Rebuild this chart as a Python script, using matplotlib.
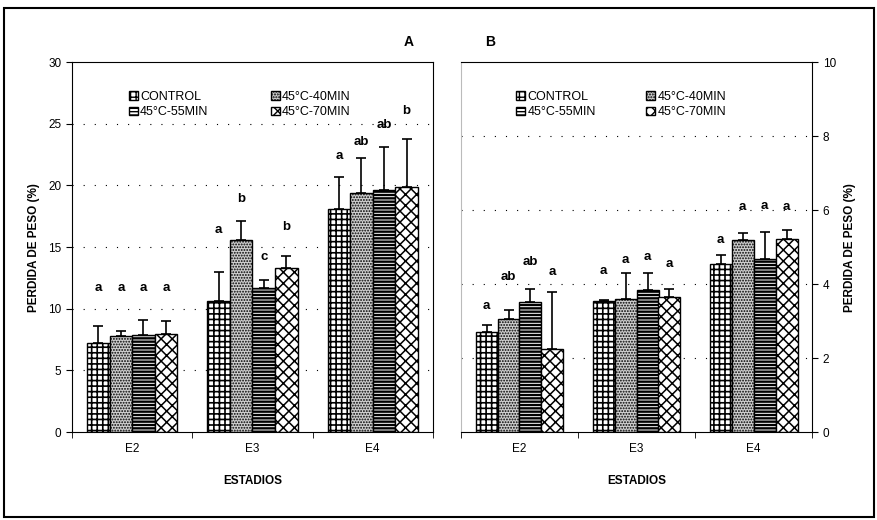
import matplotlib.pyplot as plt
import numpy as np
from matplotlib.patches import Rectangle

plt.rcParams['font.family'] = ['Liberation Sans', 'DejaVu Sans']

estadios = ['E2', 'E3', 'E4']
tratamientos = ['CONTROL', '45°C-40MIN', '45°C-55MIN', '45°C-70MIN']

# Panel A: perdida de peso (%), media y error (solo hacia arriba)
media_A = [[7.2, 10.6, 18.1],
           [7.8, 15.6, 19.4],
           [7.9, 11.7, 19.6],
           [7.95, 13.3, 19.9]]
error_A = [[1.4, 2.4, 2.6],
           [0.4, 1.5, 2.8],
           [1.2, 0.65, 3.5],
           [1.1, 0.95, 3.9]]
letras_A = [['a', 'a', 'a'],
            ['a', 'b', 'ab'],
            ['a', 'c', 'ab'],
            ['a', 'b', 'b']]
altura_letras_A = [[11.7, 16.4, 22.4],
                   [11.7, 18.9, 23.5],
                   [11.7, 14.2, 24.9],
                   [11.7, 16.6, 26.0]]

# Panel B
media_B = [[2.71, 3.55, 4.54],
           [3.07, 3.59, 5.19],
           [3.52, 3.84, 4.69],
           [2.26, 3.66, 5.23]]
error_B = [[0.18, 0.02, 0.26],
           [0.23, 0.72, 0.20],
           [0.34, 0.47, 0.72],
           [1.52, 0.20, 0.23]]
letras_B = [['a', 'a', 'a'],
            ['ab', 'a', 'a'],
            ['ab', 'a', 'a'],
            ['a', 'a', 'a']]
altura_letras_B = [[3.4, 4.36, 5.19],
                   [4.2, 4.65, 6.09],
                   [4.59, 4.74, 6.12],
                   [4.33, 4.54, 6.09]]

tramas = ['+++', '......', '-----', 'xxx']
fondos = ['white', '#cfcfcf', 'white', 'white']
grosor_trama = [1.2, 0.9, 1.7, 1.1]


def panel(ax, media, error, letras, alturas, ymax, paso, colspace, right=False):
    x = np.arange(len(estadios))
    w = 0.1875
    handles = []
    for i in range(4):
        pos = x + (i - 1.5) * w
        with plt.rc_context({'hatch.linewidth': grosor_trama[i]}):
            b = ax.bar(pos, media[i], w, color=fondos[i], edgecolor='black',
                       hatch=tramas[i], linewidth=1.0, zorder=3, label=tratamientos[i])
        handles.append(b)
        ax.errorbar(pos, media[i], yerr=[np.zeros(3), error[i]], fmt='none',
                    ecolor='black', elinewidth=1.2, capsize=3.5, capthick=1.2, zorder=4)
        for j in range(3):
            ax.text(pos[j], alturas[i][j], letras[i][j], ha='center', va='center',
                    fontsize=9.5, fontweight='bold', zorder=5)

    ax.set_xlim(-0.5, 2.5)
    ax.set_ylim(0, ymax)
    ax.set_yticks(np.arange(0, ymax + 0.01, paso))
    for yv in np.arange(paso, ymax - 0.01, paso):
        ax.axhline(yv, color='black', lw=0.8, ls=(0, (1, 9)), zorder=1)

    ax.set_xticks(x)
    ax.set_xticklabels(estadios, fontsize=8.5)
    ax.set_xticks([-0.5, 0.5, 1.5, 2.5], minor=True)
    ax.tick_params(axis='x', which='major', length=0, pad=8)
    ax.tick_params(axis='x', which='minor', length=4, direction='out')
    ax.tick_params(axis='y', length=4, labelsize=8.5)
    ax.set_xlabel('ESTADIOS', fontsize=8.5, fontweight='bold', labelpad=14)

    if right:
        ax.yaxis.tick_right()
        ax.yaxis.set_label_position('right')
        ax.spines['left'].set_color('#bbbbbb')
        ax.set_ylabel('PERDIDA DE PESO (%)', fontsize=8.5, fontweight='bold', labelpad=6)
    else:
        ax.set_ylabel('PERDIDA DE PESO (%)', fontsize=8.5, fontweight='bold', labelpad=6)

    orden = [handles[0], handles[2], handles[1], handles[3]]
    ax.legend(orden, [tratamientos[k] for k in (0, 2, 1, 3)], ncol=2,
              loc='upper left', bbox_to_anchor=(0.14, 0.94), frameon=False,
              fontsize=9, handlelength=0.7, handleheight=0.7,
              handletextpad=0.2, columnspacing=colspace, borderpad=0,
              labelspacing=0.3)
    return ax


fig = plt.figure(figsize=(8.78, 5.20), dpi=100)
axA = fig.add_axes([0.082, 0.169, 0.411, 0.7115])
axB = fig.add_axes([0.525, 0.169, 0.400, 0.7115])

panel(axA, media_A, error_A, letras_A, altura_letras_A, 30, 5, 5.0)
panel(axB, media_B, error_B, letras_B, altura_letras_B, 10, 2, 4.0, right=True)

fig.text(0.466, 0.912, 'A', fontsize=10, fontweight='bold', ha='center')
fig.text(0.558, 0.912, 'B', fontsize=10, fontweight='bold', ha='center')

# marco exterior
fig.patches.append(Rectangle((0.005, 0.006), 0.99, 0.979, transform=fig.transFigure,
                             fill=False, edgecolor='black', linewidth=1.5))

fig.savefig('out.png', dpi=100)
